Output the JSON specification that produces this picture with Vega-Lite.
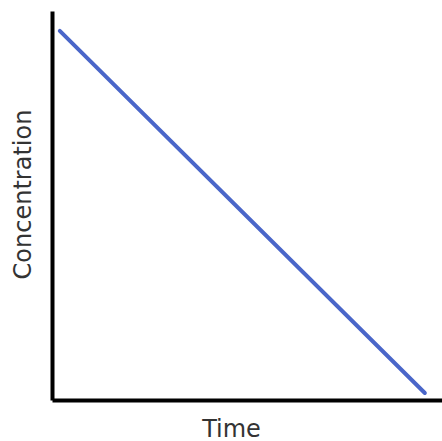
{
  "$schema": "https://vega.github.io/schema/vega-lite/v6.json",
  "width": 390,
  "height": 389,
  "autosize": {"type": "none"},
  "padding": {"left": 52, "top": 11, "right": 0, "bottom": 41},
  "background": "white",
  "data": {"values": [
    {"time": 2.0, "concentration": 94.9},
    {"time": 95.6, "concentration": 1.8}
  ]},
  "mark": {"type": "line", "color": "#4a66c9", "strokeWidth": 4, "strokeCap": "round"},
  "encoding": {
    "x": {"field": "time", "type": "quantitative", "scale": {"domain": [0, 100]},
      "axis": {"title": "Time", "labels": false, "ticks": false, "grid": false, "domainColor": "black", "domainWidth": 4, "titleFont": "DejaVu Sans", "titleFontSize": 24, "titleFontWeight": "normal", "titleColor": "#333", "titleX": 179, "titleY": 36, "titleBaseline": "alphabetic", "titleAlign": "center"}},
    "y": {"field": "concentration", "type": "quantitative", "scale": {"domain": [0, 100]},
      "axis": {"title": "Concentration", "labels": false, "ticks": false, "grid": false, "domainColor": "black", "domainWidth": 4, "titleFont": "DejaVu Sans", "titleFontSize": 24, "titleFontWeight": "normal", "titleColor": "#333", "titleX": -29, "titleY": 183, "titleBaseline": "middle", "titleAlign": "center", "titleAngle": 270}}
  },
  "config": {"view": {"stroke": null}}
}
